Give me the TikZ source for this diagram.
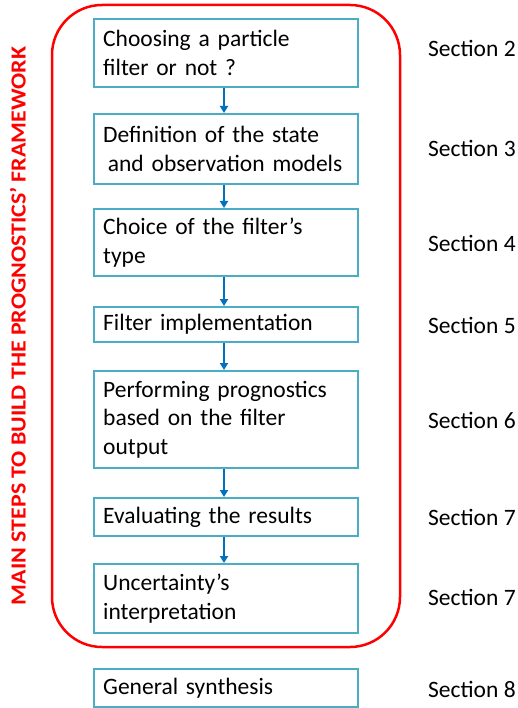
\documentclass[tikz,border=0pt]{standalone}
\usepackage{fontspec}
\setmainfont{Carlito}
\usetikzlibrary{arrows.meta}
\definecolor{boxblue}{RGB}{75,172,198}
\definecolor{arrowblue}{RGB}{0,112,192}
\definecolor{framered}{RGB}{255,0,0}
\begin{document}
\begin{tikzpicture}[x=1pt,y=-1pt,
  stepbox/.style={draw=boxblue,line width=2.4pt,anchor=north west,
    minimum width=264pt,text width=246pt,align=left,inner sep=0pt,
    font=\fontsize{23.5}{28.8}\selectfont},
  seclabel/.style={anchor=west,inner sep=0pt,font=\fontsize{23.5}{28.8}\selectfont},
  flow/.style={draw=arrowblue,line width=2pt,-{Triangle[length=7pt,width=8pt]}}]
\useasboundingbox (0,0) rectangle (518,708);
% red frame around the main steps
\draw[framered,line width=2.5pt,rounded corners=50pt] (52,5) rectangle (400,647);
\node[rotate=90,text=framered,inner sep=0pt,
  font=\bfseries\fontsize{21.5}{24}\selectfont] (title) at (18,326)
  {\scalebox{1.11}[1]{MAIN STEPS TO BUILD THE PROGNOSTICS’ FRAMEWORK}};
% steps
\node[stepbox,minimum height=68pt] (s1) at (93,18) {Choosing a particle\\filter or not ?};
\node[stepbox,minimum height=70pt] (s2) at (93,113) {Definition of the state\\\hspace{0.2em}and observation models};
\node[stepbox,minimum height=67pt] (s3) at (93,208) {Choice of the filter’s\\type};
\node[stepbox,minimum height=35pt] (s4) at (93,306) {Filter implementation};
\node[stepbox,minimum height=97pt] (s5) at (93,370) {Performing prognostics\\based on the filter\\output};
\node[stepbox,minimum height=38pt] (s6) at (93,497) {Evaluating the results};
\node[stepbox,minimum height=69pt] (s7) at (93,563) {Uncertainty’s\\interpretation};
\node[stepbox,minimum height=38pt] (s8) at (93,668) {General synthesis};
% arrows between steps
\foreach \a/\b in {s1/s2,s2/s3,s3/s4,s4/s5,s5/s6,s6/s7}
  \draw[flow] (224,0 |- \a.south) -- (224,0 |- \b.north);
% section references
\foreach \s/\n/\y in {s1/2/48,s2/3/148,s3/4/243,s4/5/325,s5/6/420,s6/7/517,s7/7/597,s8/8/689}
  \node[seclabel] (sec-\s) at (428,\y) {Section \n};
\end{tikzpicture}
\end{document}
